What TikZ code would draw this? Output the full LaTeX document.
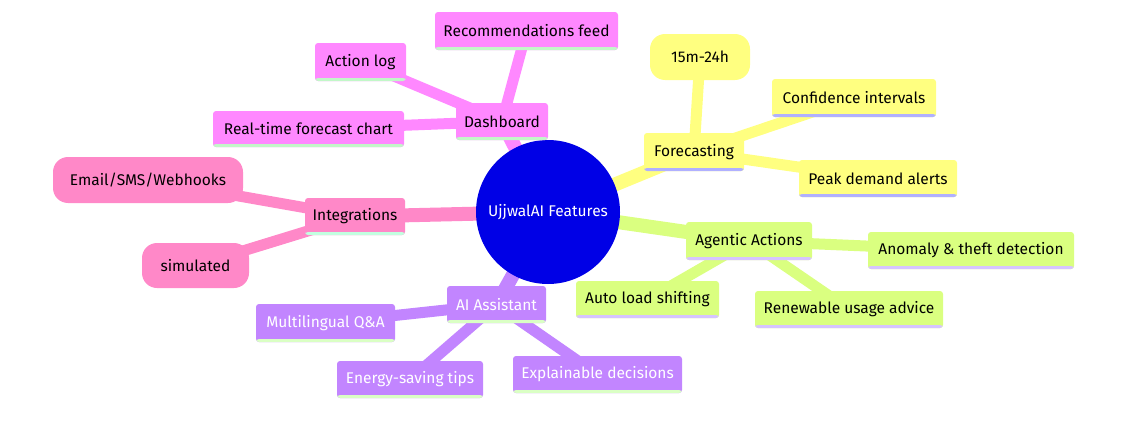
\documentclass[tikz,border=0pt]{standalone}
\usepackage{fontspec}
\setmainfont{Fira Sans}
\usetikzlibrary{backgrounds}
\definecolor{rootblue}{HTML}{0000E6}
\definecolor{dashpink}{HTML}{FF88FF}
\definecolor{foreyellow}{HTML}{FFFF80}
\definecolor{agentgreen}{HTML}{DAFF80}
\definecolor{intpink}{HTML}{FF88C8}
\definecolor{aipurple}{HTML}{C285FF}
\definecolor{dashline}{HTML}{C2F7C8}
\definecolor{foreline}{HTML}{B0B0FF}
\definecolor{agentline}{HTML}{D6C4FF}
\definecolor{intline}{HTML}{C2FFE0}
\definecolor{ailine}{HTML}{DAFFC4}
\tikzset{
  mmtext/.style={font=\fontsize{15.5}{18}\selectfont, inner sep=0pt},
  mmbox/.style 2 args={mmtext, rounded corners=3pt, fill=#1,
    path picture={\fill[#2] ([yshift=3pt]path picture bounding box.south west)
      rectangle (path picture bounding box.south east);}},
  mmround/.style={mmtext, rounded corners=15pt, fill=#1},
  secedge/.style={line width=14pt, #1},
  leafedge/.style={line width=11pt, #1}
}
\begin{document}
\begin{tikzpicture}[x=1pt,y=-1pt]
\useasboundingbox (0,0) rectangle (1125,439);

\node[mmtext, circle, fill=rootblue, text=white, minimum size=144pt] (root) at (548,212) {UjjwalAI Features};

% Dashboard
\node[mmbox={dashpink}{dashline}, minimum width=92pt, minimum height=37pt] (dash) at (502,121.5) {Dashboard};
\node[mmbox={dashpink}{dashline}, minimum width=183pt, minimum height=38pt] (recfeed) at (526.5,31) {Recommendations feed};
\node[mmbox={dashpink}{dashline}, minimum width=91pt, minimum height=38pt] (actlog) at (360.5,62) {Action log};
\node[mmbox={dashpink}{dashline}, minimum width=191pt, minimum height=36pt] (rtchart) at (308.5,129) {Real-time forecast chart};

% Forecasting
\node[mmbox={foreyellow}{foreline}, minimum width=100pt, minimum height=38pt] (fore) at (694,152) {Forecasting};
\node[mmround=foreyellow, minimum width=100pt, minimum height=46pt] (horizon) at (700,57) {15m-24h};
\node[mmbox={foreyellow}{foreline}, minimum width=164pt, minimum height=38pt] (confint) at (854,98) {Confidence intervals};
\node[mmbox={foreyellow}{foreline}, minimum width=158pt, minimum height=37pt] (peak) at (878,178.5) {Peak demand alerts};

% Agentic Actions
\node[mmbox={agentgreen}{agentline}, minimum width=126pt, minimum height=38pt] (agent) at (749,241) {Agentic Actions};
\node[mmbox={agentgreen}{agentline}, minimum width=206pt, minimum height=37pt] (anomaly) at (971,250.5) {Anomaly \& theft detection};
\node[mmbox={agentgreen}{agentline}, minimum width=143pt, minimum height=37pt] (autoload) at (647.5,299.5) {Auto load shifting};
\node[mmbox={agentgreen}{agentline}, minimum width=188pt, minimum height=37pt] (renew) at (849,309.5) {Renewable usage advice};

% Integrations
\node[mmbox={intpink}{intline}, minimum width=100pt, minimum height=37pt] (integ) at (355,216.5) {Integrations};
\node[mmround=intpink, minimum width=190pt, minimum height=46pt] (notify) at (148,180) {Email/SMS/Webhooks};
\node[mmround=intpink, minimum width=107pt, minimum height=45pt] (simul) at (195.5,265.5) {simulated};

% AI Assistant
\node[mmbox={aipurple}{ailine}, text=white, minimum width=99pt, minimum height=37pt] (assist) at (496.5,304.5) {AI Assistant};
\node[mmbox={aipurple}{ailine}, text=white, minimum width=139pt, minimum height=38pt] (multiqa) at (325.5,323) {Multilingual Q\&A};
\node[mmbox={aipurple}{ailine}, text=white, minimum width=146pt, minimum height=37pt] (tips) at (410,379.5) {Energy-saving tips};
\node[mmbox={aipurple}{ailine}, text=white, minimum width=169pt, minimum height=37pt] (explain) at (597.5,374.5) {Explainable decisions};

\begin{scope}[on background layer]
\draw[secedge=dashpink] (root.center) -- (dash.center);
\draw[leafedge=dashpink] (dash.center) -- (recfeed.center);
\draw[leafedge=dashpink] (dash.center) -- (actlog.center);
\draw[leafedge=dashpink] (dash.center) -- (rtchart.center);

\draw[secedge=foreyellow] (root.center) -- (fore.center);
\draw[leafedge=foreyellow] (fore.center) -- (horizon.center);
\draw[leafedge=foreyellow] (fore.center) -- (confint.center);
\draw[leafedge=foreyellow] (fore.center) -- (peak.center);

\draw[secedge=agentgreen] (root.center) -- (agent.center);
\draw[leafedge=agentgreen] (agent.center) -- (anomaly.center);
\draw[leafedge=agentgreen] (agent.center) -- (autoload.center);
\draw[leafedge=agentgreen] (agent.center) -- (renew.center);

\draw[secedge=intpink] (root.center) -- (integ.center);
\draw[leafedge=intpink] (integ.center) -- (notify.center);
\draw[leafedge=intpink] (integ.center) -- (simul.center);

\draw[secedge=aipurple] (root.center) -- (assist.center);
\draw[leafedge=aipurple] (assist.center) -- (multiqa.center);
\draw[leafedge=aipurple] (assist.center) -- (tips.center);
\draw[leafedge=aipurple] (assist.center) -- (explain.center);
\end{scope}
\end{tikzpicture}
\end{document}
